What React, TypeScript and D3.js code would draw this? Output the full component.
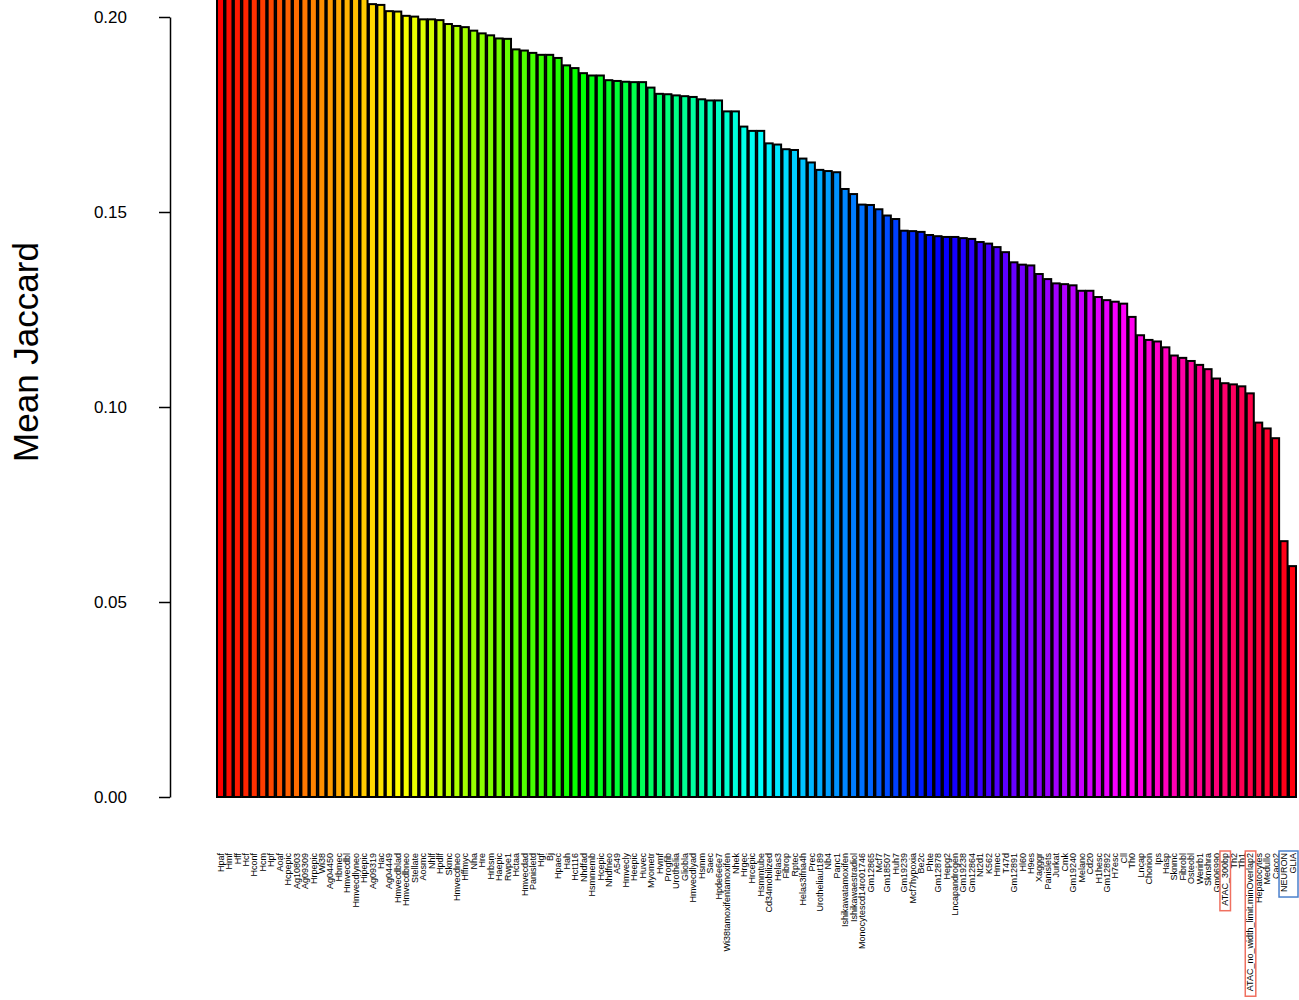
import React, { useEffect, useRef } from "react";
import * as d3 from "d3";

// cell types in plotted order (sorted by mean Jaccard)
const cellTypes = [
  "Hpaf", "Hmf", "Hff", "Hcf", "Hconf", "Hcm", "Hpf", "Aoaf", "Hcpepic", "Ag10803",
  "Ag09309", "Hrpepic", "Wi38", "Ag04450", "Hbmec", "Hmvecdbl", "Hmvecdlyneo", "Hipepic", "Ag09319", "Hac",
  "Ag04449", "Hmvecdblad", "Hmvecdbneo", "Stellate", "Aosmc", "Nhlf", "Hpdlf", "Skmc", "Hmvecdneo", "Hffmyc",
  "Nha", "Hre", "Hrbsm", "Haepic", "Rwpe1", "Hctaa", "Hmvecdad", "Panisletd", "Hgf", "Bj",
  "Hpaec", "Hah", "Hct116", "Nhdfad", "Hsmmemb", "Hcepic", "Nhdfneo", "A549", "Hmvecly", "Heepic",
  "Huvec", "Myometr", "Hvmf", "Progfib", "Urothelia", "Gliobla", "Hmvecdlyad", "Hsmm", "Saec", "Hpde6e6e7",
  "Wi38tamoxifentamoxifen", "Nhek", "Hrgec", "Hrcepic", "Hsmmtube", "Cd34mobilized", "Helas3", "Fibrop", "Rptec", "Helas3ifna4h",
  "Prec", "Urotheliaut189", "Nb4", "Panc1", "Ishikawatamoxifen", "Ishikawaestradiol", "Monocytescd14ro01746", "Gm12865", "Mcf7", "Gm18507",
  "Huh7", "Gm19239", "Mcf7hypoxia", "Be2c", "Phte", "Gm12878", "Hepg2", "Lncapandrogen", "Gm19238", "Gm12864",
  "Nt2d1", "K562", "Hmec", "T47d", "Gm12891", "Hl60", "H9es", "Xagggr", "Panislets", "Jurkat",
  "Cmk", "Gm19240", "Melano", "Cd20", "H1hesc", "Gm12892", "H7esc", "Cll", "Th0", "Lncap",
  "Chorion", "Ips", "Hasp", "Sknmc", "Fibrobl", "Osteobl", "Werirb1", "Sknshra", "Gm06990", "ATAC_300bp",
  "Th2", "Th1", "ATAC_no_width_limit.minOverlap2", "Hepatocytes", "Medullo", "Caco2", "NEURON", "GLIA",
];

// mean Jaccard per cell type (first bars run off the top of the plot)
const meanJaccard = [
  0.262, 0.245, 0.238, 0.232, 0.228, 0.225, 0.222, 0.22, 0.218, 0.216,
  0.214, 0.213, 0.211, 0.21, 0.209, 0.207, 0.206, 0.205, 0.2033, 0.2031,
  0.2015, 0.2014, 0.2003, 0.2001, 0.1994, 0.1994, 0.1992, 0.1982, 0.1977, 0.1974,
  0.1965, 0.1958, 0.1953, 0.1945, 0.1944, 0.1917, 0.1914, 0.1908, 0.1903, 0.1903,
  0.1895, 0.1876, 0.1869, 0.1856, 0.185, 0.185, 0.1838, 0.1836, 0.1834, 0.1833,
  0.1833, 0.1819, 0.1803, 0.1802, 0.1799, 0.1797, 0.1795, 0.1789, 0.1786, 0.1786,
  0.1758, 0.1758, 0.1719, 0.1708, 0.1708, 0.1676, 0.1673, 0.1661, 0.1659, 0.1637,
  0.1627, 0.1608, 0.1605, 0.1602, 0.1559, 0.1546, 0.1519, 0.1518, 0.1507, 0.1491,
  0.1482, 0.1452, 0.1451, 0.1449, 0.1441, 0.1438, 0.1436, 0.1436, 0.1433, 0.1431,
  0.1423, 0.1419, 0.141, 0.1397, 0.1371, 0.1365, 0.1363, 0.1341, 0.1328, 0.1317,
  0.1315, 0.1312, 0.1298, 0.1298, 0.1282, 0.1274, 0.127, 0.1265, 0.1231, 0.1184,
  0.1172, 0.1168, 0.1153, 0.1132, 0.1126, 0.1118, 0.1108, 0.1097, 0.1073, 0.1061,
  0.1058, 0.1053, 0.1035, 0.096, 0.0945, 0.092, 0.0656, 0.0592,
];

const yTicks = [0, 0.05, 0.1, 0.15, 0.2];

// labels outlined in the figure
const redBoxed = ["ATAC_300bp", "ATAC_no_width_limit.minOverlap2"];
const blueBoxed = ["NEURON", "GLIA"];

const font = "'Liberation Sans', Arial, Helvetica, sans-serif";

export default function App() {
  const ref = useRef<SVGSVGElement>(null);

  useEffect(() => {
    const svg = d3.select(ref.current);
    svg.selectAll("*").remove();

    const n = cellTypes.length;
    const x = d3
      .scaleBand()
      .domain(cellTypes)
      .range([217, 1296])
      .paddingInner(1 / 6)
      .paddingOuter(0);
    const y = d3.scaleLinear().domain([0, 0.2]).range([797, 17]);

    // rainbow(n) like R
    const color = (i: number) => d3.hsl((360 * i) / n, 1, 0.5).toString();

    // bars
    svg
      .append("g")
      .selectAll("rect")
      .data(cellTypes)
      .join("rect")
      .attr("x", (d) => x(d)!)
      .attr("y", (d, i) => y(meanJaccard[i]))
      .attr("width", x.bandwidth())
      .attr("height", (d, i) => y(0) - y(meanJaccard[i]))
      .attr("fill", (d, i) => color(i))
      .attr("stroke", "#000")
      .attr("stroke-width", 2);

    // y axis
    const yAxis = svg
      .append("g")
      .attr("transform", "translate(170,0)")
      .call(
        d3
          .axisLeft(y)
          .tickValues(yTicks)
          .tickFormat(d3.format(".2f"))
          .tickSize(11)
          .tickSizeOuter(0)
          .tickPadding(32)
      );
    yAxis.selectAll("path, line").attr("stroke", "#000").attr("stroke-width", 1.5);
    yAxis
      .selectAll("text")
      .attr("font-family", font)
      .attr("font-size", 17)
      .attr("fill", "#000");

    // y title
    svg
      .append("text")
      .attr("transform", "translate(38,352) rotate(-90)")
      .attr("text-anchor", "middle")
      .attr("font-family", font)
      .attr("font-size", 35)
      .text("Mean Jaccard");

    // x labels, vertical
    const labelTop = 853;
    const labels = svg
      .append("g")
      .selectAll("text")
      .data(cellTypes)
      .join("text")
      .attr(
        "transform",
        (d) => `translate(${x(d)! + x.bandwidth() / 2},${labelTop}) rotate(-90)`
      )
      .attr("text-anchor", "end")
      .attr("dy", "0.35em")
      .attr("font-family", font)
      .attr("font-size", 9)
      .text((d) => d);

    const lengthOf = (name: string) => {
      const node = labels.filter((d) => d === name).node() as SVGTextElement;
      return node ? node.getComputedTextLength() : 0;
    };

    // boxes around highlighted labels
    const drawBox = (names: string[], stroke: string) => {
      const x0 = x(names[0])! - 1.5;
      const x1 = Math.min(x(names[names.length - 1])! + x.bandwidth() + 2, 1298);
      const len = d3.max(names, lengthOf) || 0;
      svg
        .append("rect")
        .attr("x", x0)
        .attr("y", labelTop - 2)
        .attr("width", x1 - x0)
        .attr("height", len + 7)
        .attr("fill", "none")
        .attr("stroke", stroke)
        .attr("stroke-width", 1.5);
    };
    redBoxed.forEach((name) => drawBox([name], "#f07060"));
    drawBox(blueBoxed, "#4a80cc");
  }, []);

  return (
    <svg
      ref={ref}
      width={1299}
      height={1000}
      style={{ position: "absolute", left: 0, top: 0, background: "#fff" }}
    />
  );
}
